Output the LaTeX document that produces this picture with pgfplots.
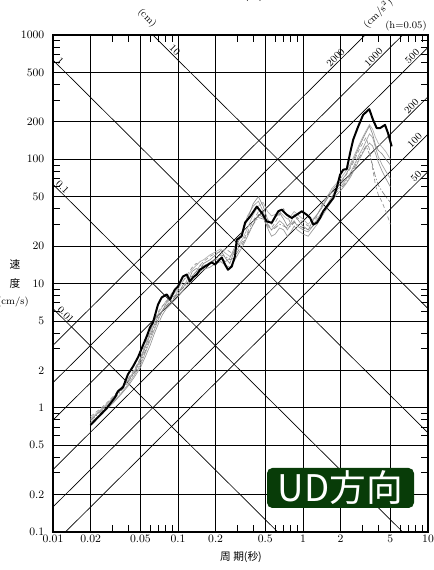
\documentclass[border=0pt]{standalone}
\usepackage{pgfplots}
\pgfplotsset{compat=1.18}
\usepackage{pgfplotstable}
\usepackage{fontspec}
\newfontfamily\jp{Noto Sans CJK JP}
\definecolor{udgreen}{RGB}{8,60,8}
\definecolor{ga}{RGB}{140,140,140}
\definecolor{gb}{RGB}{160,160,160}
\definecolor{gc}{RGB}{175,175,175}
\definecolor{gd}{RGB}{150,150,150}
\definecolor{ge}{RGB}{150,150,150}
\definecolor{gf}{RGB}{130,130,130}

\pgfplotstableread{
T g1 g2 g3 g4 g5 g6
0.02 0.80 0.76 0.82 0.74 0.85 0.79
0.025 0.98 0.92 1.0 0.90 1.02 0.96
0.03 1.18 1.10 1.2 1.08 1.22 1.14
0.035 1.40 1.30 1.42 1.28 1.45 1.36
0.04 1.65 1.55 1.7 1.50 1.72 1.62
0.045 1.95 1.85 2.0 1.78 2.05 1.92
0.05 2.4 2.2 2.5 2.1 2.5 2.3
0.055 3.1 2.8 3.2 2.6 3.3 2.9
0.06 3.9 3.5 4.1 3.2 4.2 3.7
0.065 4.7 4.3 5.0 4.0 5.1 4.5
0.07 5.6 5.2 5.8 4.8 6.0 5.3
0.075 6.0 6.1 6.5 5.6 6.6 6.0
0.08 6.9 6.5 7.2 6.2 7.0 6.6
0.09 7.8 7.2 8.0 7.0 8.5 7.4
0.1 8.2 8.8 9.0 7.8 9.5 8.3
0.11 9.8 9.2 10.5 8.8 10.5 9.3
0.12 10.2 11 11.5 9.8 12 10.2
0.13 12.5 11.5 13 10.8 13.5 11.5
0.14 13.2 12.5 14 11.8 14.5 12.4
0.15 12.8 14 15 12.5 14 13.2
0.16 14.5 13.5 15.5 13 15 13.8
0.18 15.5 14.5 17 13.5 16.5 14.8
0.2 17 15.5 18 14.5 17.5 15.8
0.22 18.5 16 19 15 18 17
0.24 16 15 17.5 14 19 16.5
0.26 14.5 16 16.5 13.5 18 15.5
0.28 18 19 18 15 17 16
0.3 21 22 20 17 19 18
0.33 26 27 23 20 22 21
0.36 33 35 28 24 26 25
0.4 44 42 36 30 32 30
0.44 50 46 42 36 38 34
0.48 42 38 45 34 36 33
0.52 33 30 38 28 30 29
0.56 30 27 35 24 28 27
0.6 34 29 36 25 31 28
0.65 37 32 38 28 36 30
0.7 33 30 35 27 40 29
0.75 29 27 33 24 35 28
0.8 31 30 35 26 30 29
0.85 36 32 38 29 31 31
0.9 33 29 36 27 34 30
1.0 29 27 33 25 31 28
1.1 27 26 30 24 29 27
1.2 32 29 33 27 30 29
1.3 36 33 36 30 35 32
1.4 40 37 41 34 42 36
1.5 45 40 46 38 48 40
1.6 50 45 52 42 52 44
1.7 55 50 58 46 54 48
1.8 60 55 62 50 56 53
2.0 66 60 70 56 64 58
2.2 75 68 80 63 74 65
2.4 88 78 92 72 85 75
2.6 105 92 110 84 100 88
2.8 125 108 130 98 118 102
3.0 145 122 150 112 135 115
3.2 165 140 170 125 150 128
3.4 185 160 190 135 120 110
3.6 160 150 175 128 85 90
3.8 130 125 150 112 62 72
4.0 118 105 135 95 52 62
4.3 110 90 125 80 45 55
4.6 100 80 115 70 38 50
5.0 90 70 100 60 30 45
}\graydata

\pgfplotstableread{
T sv
0.0200 0.728
0.0269 0.991
0.0313 1.21
0.0331 1.36
0.0363 1.46
0.0398 1.86
0.0437 2.15
0.0479 2.55
0.0562 3.75
0.0597 4.43
0.0631 4.86
0.0692 6.78
0.0741 7.73
0.0813 8.17
0.0863 7.43
0.0946 8.95
0.1 9.46
0.1096 11.4
0.1174 11.8
0.1247 10.4
0.1318 11.2
0.1412 11.8
0.15 12.9
0.1644 13.7
0.1738 14.2
0.186 14.8
0.198 14.2
0.209 15.1
0.224 16.2
0.238 14.2
0.251 12.9
0.269 13.7
0.286 16.6
0.295 22.5
0.323 24.0
0.344 30.9
0.377 34.5
0.427 41.6
0.468 37.0
0.513 31.6
0.562 30.8
0.634 38.1
0.676 39.3
0.741 35.8
0.813 33.7
0.891 35.8
0.977 38.1
1.07 35.8
1.14 33.7
1.21 29.8
1.29 30.8
1.37 33.7
1.45 38.1
1.59 43.1
1.75 48.8
1.86 58.7
1.98 75.1
2.10 82.4
2.24 83.4
2.38 112
2.52 143.6
2.76 183
3.03 228
3.39 253
3.63 208
3.89 178
4.13 178
4.53 189
4.79 162
5.12 127
}\blackdata

\begin{document}
\begin{tikzpicture}
\begin{axis}[
  at={(0,0)}, anchor=south west,
  scale only axis, width=281.25pt, height=372.75pt,
  xmode=log, ymode=log,
  xmin=0.01, xmax=10, ymin=0.1, ymax=1000,
  xtick={0.01,0.02,0.05,0.1,0.2,0.5,1,2,5,10},
  xticklabels={0.01,0.02,0.05,0.1,0.2,0.5,1,2,5,10},
  ytick={0.1,0.2,0.5,1,2,5,10,20,50,100,200,500,1000},
  yticklabels={0.1,0.2,0.5,1,2,5,10,20,50,100,200,500,1000},
  minor xtick={0.03,0.04,0.06,0.07,0.08,0.09,0.3,0.4,0.6,0.7,0.8,0.9,3,4,6,7,8,9},
  minor ytick={0.3,0.4,0.6,0.7,0.8,0.9,3,4,6,7,8,9,30,40,60,70,80,90,300,400,600,700,800,900},
  grid=major,
  major grid style={black, line width=0.6pt},
  major tick length=0pt,
  minor tick length=5pt,
  minor tick style={black, line width=0.6pt},
  axis line style={line width=1.3pt},
  tick label style={font=\fontsize{8.5}{10}\selectfont},
  xticklabel style={yshift=1pt},
  yticklabel style={xshift=-3pt},
  clip mode=individual,
]
% displacement lines (cm)
\addplot[black, line width=0.5pt] coordinates {(0.06283,1000) (10,6.283)};
\addplot[black, line width=0.5pt] coordinates {(0.01,628.3) (10,0.6283)};
\addplot[black, line width=0.5pt] coordinates {(0.01,62.83) (6.283,0.1)};
\addplot[black, line width=0.5pt] coordinates {(0.01,6.283) (0.6283,0.1)};
% acceleration lines (cm/s^2)
\addplot[black, line width=0.5pt] coordinates {(0.01,3.183) (3.1416,1000)};
\addplot[black, line width=0.5pt] coordinates {(0.01,1.5915) (6.2832,1000)};
\addplot[black, line width=0.5pt] coordinates {(0.01,0.7958) (10,795.8)};
\addplot[black, line width=0.5pt] coordinates {(0.01,0.3183) (10,318.3)};
\addplot[black, line width=0.5pt] coordinates {(0.01,0.15915) (10,159.15)};
\addplot[black, line width=0.5pt] coordinates {(0.012566,0.1) (10,79.58)};
% gray records
\addplot[gc, line width=0.5pt] table[x=T,y=g3]{\graydata};
\addplot[gb, line width=0.5pt] table[x=T,y=g2]{\graydata};
\addplot[gd, line width=0.5pt] table[x=T,y=g4]{\graydata};
\addplot[ga, line width=0.5pt] table[x=T,y=g1]{\graydata};
\addplot[ge, line width=0.5pt, dash pattern=on 3pt off 2pt] table[x=T,y=g5]{\graydata};
\addplot[gf, line width=0.5pt, dash pattern=on 4pt off 1.5pt on 1pt off 1.5pt] table[x=T,y=g6]{\graydata};
% black record
\addplot[black, line width=1.5pt, line join=round] table[x=T,y=sv]{\blackdata};
% labels on lines
\begin{scope}[every node/.style={font=\fontsize{7.5}{9}\selectfont, inner sep=0.8pt, anchor=south}]
\node[rotate=-45] at (axis cs:0.0888,707) {10};
\node[rotate=-45] at (axis cs:0.01077,583) {1};
\node[rotate=-45] at (axis cs:0.01121,56.0) {0.1};
\node[rotate=-45] at (axis cs:0.0119,5.28) {0.01};
\node[rotate=45] at (axis cs:1.943,618.5) {2000};
\node[rotate=45] at (axis cs:3.90,620.7) {1000};
\node[rotate=45] at (axis cs:7.97,634) {500};
\node[rotate=45] at (axis cs:7.86,250) {200};
\node[rotate=45] at (axis cs:8.35,132.9) {100};
\node[rotate=45] at (axis cs:8.54,68.0) {50};
\end{scope}
\end{axis}
% outside labels
\node[font=\fontsize{7.5}{9}\selectfont, rotate=-45] at (70.5pt,385.5pt) {(cm)};
\node[font=\fontsize{7.5}{9}\selectfont, rotate=45] at (243.75pt,389pt) {(cm/s$^2$)};
\node[font=\fontsize{7.5}{9}\selectfont] at (264.75pt,379.5pt) {(h=0.05)};
\node[font=\jp\fontsize{8}{9}\selectfont] at (141.75pt,402pt) {周\ 期(秒)};
\node[font=\jp\fontsize{8}{9}\selectfont] at (141pt,-18.75pt) {周\ 期(秒)};
\node[font=\jp\fontsize{8}{9}\selectfont] at (-28.5pt,201pt) {速};
\node[font=\jp\fontsize{8}{9}\selectfont] at (-28.5pt,186.75pt) {度};
\node[font=\fontsize{7.5}{9}\selectfont] at (-30pt,172.5pt) {(cm/s)};
% UD box
\fill[udgreen, rounded corners=4pt] (160.5pt,18pt) rectangle (270.75pt,48pt);
\node[text=white, font=\jp\fontsize{27.5}{28}\selectfont] at (215.6pt,33pt) {UD方向};
\pgfresetboundingbox
\useasboundingbox (-39.75pt,-28.5pt) rectangle (285.75pt,399pt);
\end{tikzpicture}
\end{document}
